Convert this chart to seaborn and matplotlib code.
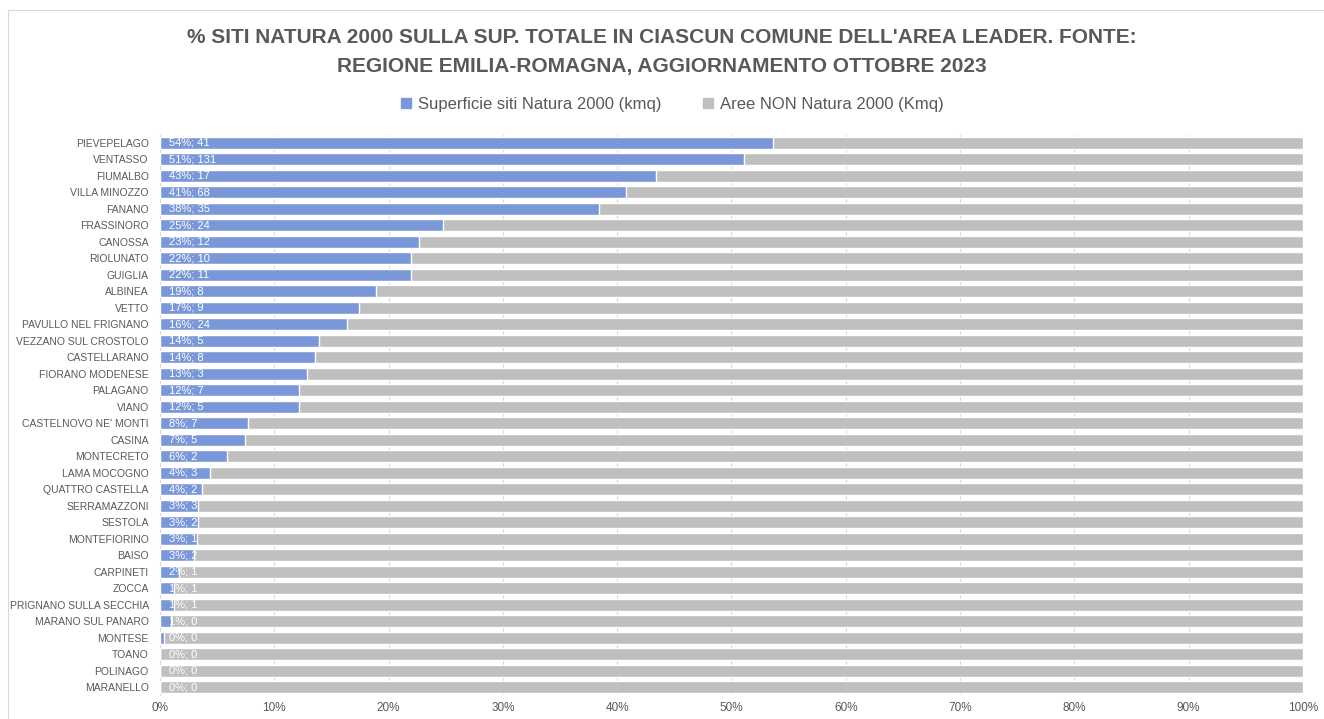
import numpy as np
import pandas as pd
import seaborn as sns
import matplotlib.pyplot as plt
from matplotlib.patches import Rectangle

comuni = [
    "PIEVEPELAGO", "VENTASSO", "FIUMALBO", "VILLA MINOZZO", "FANANO",
    "FRASSINORO", "CANOSSA", "RIOLUNATO", "GUIGLIA", "ALBINEA", "VETTO",
    "PAVULLO NEL FRIGNANO", "VEZZANO SUL CROSTOLO", "CASTELLARANO",
    "FIORANO MODENESE", "PALAGANO", "VIANO", "CASTELNOVO NE' MONTI",
    "CASINA", "MONTECRETO", "LAMA MOCOGNO", "QUATTRO CASTELLA",
    "SERRAMAZZONI", "SESTOLA", "MONTEFIORINO", "BAISO", "CARPINETI",
    "ZOCCA", "PRIGNANO SULLA SECCHIA", "MARANO SUL PANARO", "MONTESE",
    "TOANO", "POLINAGO", "MARANELLO",
]
# share of municipal surface inside Natura 2000 sites (%)
pct_natura = [
    53.6, 51.1, 43.4, 40.8, 38.4, 24.8, 22.7, 22.0, 22.0, 18.9, 17.4,
    16.4, 13.9, 13.6, 12.9, 12.2, 12.2, 7.7, 7.4, 5.9, 4.4, 3.7,
    3.3, 3.3, 3.2, 3.0, 1.7, 1.2, 1.2, 1.0, 0.35, 0.0, 0.0, 0.0,
]
# Natura 2000 surface (kmq)
kmq_natura = [
    41, 131, 17, 68, 35, 24, 12, 10, 11, 8, 9,
    24, 5, 8, 3, 7, 5, 7, 5, 2, 3, 2,
    3, 2, 1, 2, 1, 1, 1, 0, 0, 0, 0, 0,
]
pct_non_natura = [100 - p for p in pct_natura]

BLUE = "#7A98D8"
GREY = "#BFBFBF"
TEXT = "#595959"

df = pd.DataFrame({
    "comune": comuni,
    "natura": pct_natura,
    "totale": np.array(pct_natura) + np.array(pct_non_natura),
})

sns.set_theme(style="white")
plt.rcParams["font.family"] = ["Liberation Sans", "DejaVu Sans"]

fig = plt.figure(figsize=(13.24, 7.19), dpi=100)
ax = fig.add_axes([0.1208, 0.0327, 0.8633, 0.7802])

sns.barplot(data=df, x="totale", y="comune", color=GREY, orient="h",
            width=0.72, saturation=1, ax=ax, zorder=2)
sns.barplot(data=df, x="natura", y="comune", color=BLUE, orient="h",
            width=0.72, saturation=1, ax=ax, zorder=3)

for i, (p, k) in enumerate(zip(pct_natura, kmq_natura)):
    ax.text(0.8, i, f"{round(p)}%; {k}", color="white", fontsize=8,
            va="center", ha="left", zorder=4)

ax.set_xlim(0, 100)
ax.set_ylim(len(comuni) - 0.5, -0.5)
ax.set_xticks(np.arange(0, 101, 10))
ax.set_xticklabels([f"{t}%" for t in range(0, 101, 10)])
ax.xaxis.grid(True, color="#D9D9D9", linewidth=0.8, zorder=0)
ax.set_axisbelow(True)
ax.tick_params(axis="x", labelsize=8.5, colors=TEXT, pad=5, length=0)
ax.tick_params(axis="y", labelsize=7.5, colors=TEXT, pad=8, length=0)
ax.set_xlabel("")
ax.set_ylabel("")
for side in ["top", "right", "bottom"]:
    ax.spines[side].set_visible(False)
ax.spines["left"].set_color("#D9D9D9")
ax.spines["left"].set_linewidth(0.8)

fig.text(0.5, 0.948, "% SITI NATURA 2000 SULLA SUP. TOTALE IN CIASCUN COMUNE DELL'AREA LEADER. FONTE:",
         ha="center", va="center", fontsize=15, fontweight="bold", color=TEXT)
fig.text(0.5, 0.908, "REGIONE EMILIA-ROMAGNA, AGGIORNAMENTO OTTOBRE 2023",
         ha="center", va="center", fontsize=15, fontweight="bold", color=TEXT)

handles = [Rectangle((0, 0), 1, 1, color=BLUE), Rectangle((0, 0), 1, 1, color=GREY)]
fig.legend(handles, ["Superficie siti Natura 2000 (kmq)", "Aree NON Natura 2000 (Kmq)"],
           loc="center", bbox_to_anchor=(0.508, 0.855), ncol=2, frameon=False,
           fontsize=12, labelcolor=TEXT, handlelength=0.6, handleheight=0.6,
           handletextpad=0.4, columnspacing=2.5)

fig.patches.append(Rectangle((0.006, -0.05), 1.05, 1.036, transform=fig.transFigure,
                             fill=False, edgecolor="#D9D9D9", linewidth=0.8))

fig.savefig("out.png", dpi=100)
